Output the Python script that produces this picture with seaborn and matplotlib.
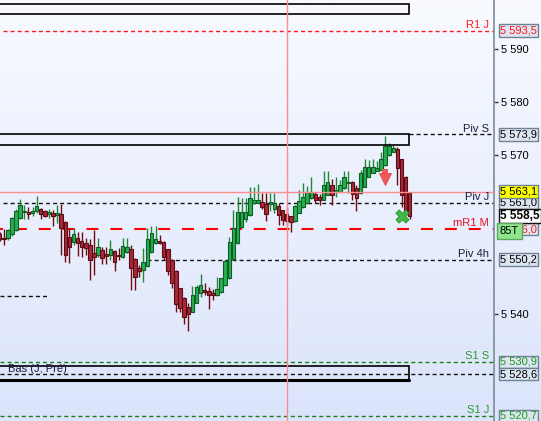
import numpy as np
import pandas as pd
import matplotlib
matplotlib.use('Agg')
import matplotlib.pyplot as plt
import seaborn as sns
from matplotlib.transforms import blended_transform_factory
from matplotlib.patches import Rectangle

# bougies (de la plus ancienne a la plus recente)
opens = [5555.0, 5554.4, 5554.4, 5555.0, 5555.8, 5558.1, 5559.2, 5559.3, 5559.0, 5559.5,
         5559.8, 5559.4, 5558.9, 5559.0, 5558.7, 5558.9, 5557.4, 5554.6, 5553.5, 5554.3,
         5553.8, 5553.3, 5553.0, 5551.4, 5551.1, 5552.1, 5551.3, 5551.1, 5551.9, 5551.1,
         5550.7, 5551.6, 5552.2, 5550.3, 5548.6, 5548.3, 5549.0, 5551.6, 5553.3, 5553.8,
         5553.6, 5552.2, 5550.2, 5548.1, 5544.8, 5542.9, 5541.2, 5540.4, 5542.0, 5543.9,
         5544.5, 5544.3, 5543.9, 5543.5, 5544.1, 5545.4, 5546.7, 5550.4, 5553.3, 5556.4,
         5557.9, 5558.7, 5560.9, 5561.0, 5561.2, 5560.8, 5560.8, 5559.8, 5560.4, 5559.6,
         5558.9, 5558.4, 5557.6, 5559.1, 5560.1, 5560.9, 5561.8, 5562.6, 5562.1, 5561.6,
         5562.5, 5564.3, 5563.1, 5563.1, 5563.7, 5564.7, 5565.0, 5563.7, 5562.8, 5564.0,
         5565.9, 5566.7, 5567.0, 5567.2, 5568.1, 5570.0, 5570.6, 5571.1, 5569.2, 5565.9,
         5562.9]
highs = [5555.5, 5556.0, 5556.0, 5558.3, 5559.8, 5561.7, 5560.6, 5560.2, 5560.2, 5562.3,
         5560.0, 5559.6, 5559.8, 5559.6, 5560.6, 5560.8, 5557.5, 5556.2, 5556.2, 5555.5,
         5555.5, 5554.3, 5554.1, 5555.8, 5554.4, 5552.7, 5552.7, 5554.0, 5552.0, 5552.4,
         5554.4, 5554.4, 5553.0, 5550.5, 5549.2, 5552.4, 5556.2, 5556.6, 5556.6, 5554.9,
         5553.7, 5552.3, 5550.3, 5548.2, 5544.9, 5543.2, 5542.0, 5545.2, 5545.4, 5547.5,
         5545.8, 5545.1, 5544.7, 5547.0, 5546.8, 5550.2, 5554.6, 5559.7, 5562.1, 5561.8,
         5561.8, 5564.0, 5564.0, 5564.5, 5562.9, 5562.9, 5562.9, 5562.9, 5561.0, 5559.7,
         5560.2, 5558.5, 5560.6, 5563.4, 5564.7, 5564.2, 5565.9, 5563.1, 5562.7, 5567.0,
         5566.9, 5565.4, 5565.9, 5565.3, 5567.0, 5566.9, 5565.1, 5564.3, 5567.2, 5569.2,
         5569.1, 5569.2, 5568.9, 5570.6, 5573.7, 5572.2, 5571.9, 5571.6, 5569.3, 5566.0,
         5563.0]
lows = [5553.8, 5553.0, 5554.0, 5554.7, 5555.6, 5557.9, 5557.9, 5557.9, 5558.4, 5559.0,
        5557.9, 5558.3, 5558.1, 5556.6, 5557.1, 5551.1, 5549.7, 5549.6, 5553.0, 5550.9,
        5550.8, 5551.1, 5546.4, 5547.3, 5550.8, 5549.5, 5549.5, 5550.2, 5548.1, 5550.2,
        5550.5, 5551.4, 5544.5, 5544.5, 5547.0, 5546.1, 5548.9, 5551.4, 5553.2, 5553.2,
        5550.2, 5547.3, 5544.9, 5540.4, 5540.4, 5538.1, 5536.8, 5540.4, 5542.0, 5543.2,
        5543.5, 5540.9, 5542.6, 5543.4, 5544.0, 5545.3, 5546.6, 5550.2, 5553.2, 5556.3,
        5557.4, 5558.5, 5560.8, 5560.9, 5559.9, 5557.6, 5559.5, 5559.0, 5556.8, 5556.8,
        5556.6, 5555.5, 5557.4, 5559.0, 5560.0, 5560.8, 5561.7, 5560.9, 5560.6, 5561.5,
        5562.4, 5560.6, 5562.1, 5563.0, 5563.6, 5562.8, 5561.5, 5559.5, 5562.7, 5563.9,
        5565.8, 5566.6, 5566.9, 5567.1, 5568.0, 5569.9, 5570.5, 5564.3, 5560.2, 5558.7,
        5558.0]
closes = [5554.1, 5554.1, 5555.8, 5558.1, 5559.5, 5560.5, 5559.5, 5558.9, 5559.5, 5560.4,
          5558.9, 5558.5, 5559.1, 5558.4, 5559.0, 5556.2, 5551.2, 5552.7, 5555.0, 5553.3,
          5552.7, 5552.4, 5550.1, 5550.8, 5552.6, 5550.6, 5551.0, 5552.2, 5549.7, 5550.9,
          5552.8, 5552.6, 5548.6, 5546.9, 5548.1, 5549.7, 5554.1, 5555.2, 5554.1, 5553.3,
          5550.7, 5548.0, 5545.8, 5541.8, 5541.0, 5539.3, 5540.0, 5543.5, 5545.0, 5545.4,
          5544.1, 5543.5, 5543.5, 5544.6, 5546.7, 5550.0, 5553.6, 5556.2, 5559.3, 5559.3,
          5559.3, 5561.8, 5561.5, 5561.5, 5560.1, 5558.8, 5561.0, 5560.9, 5558.7, 5557.7,
          5557.6, 5557.4, 5560.4, 5561.4, 5562.1, 5563.1, 5563.1, 5561.6, 5561.6, 5564.3,
          5565.0, 5562.5, 5563.4, 5564.3, 5565.8, 5565.0, 5562.6, 5561.8, 5566.7, 5567.8,
          5567.8, 5567.7, 5567.5, 5569.2, 5571.7, 5571.7, 5571.3, 5567.5, 5562.5, 5559.4,
          5558.5]

# niveaux (nom affiche a gauche de l'echelle)
level_names = ['R1 J', 'Piv S', 'Piv J', 'mR1 M', 'Piv 4h', 'S1 S', 'S1 J']
level_values = [5593.5, 5573.9, 5561.0, 5556.0, 5550.2, 5530.9, 5520.7]
extra_levels = [5528.6, 5543.4]

# etiquettes de prix sur l'echelle (ordre de dessin)
tag_texts = ['5 593,5', '5 573,9', '5 561,0', '5 563,1', '5 550,2',
             '5 530,9', '5 528,6', '5 520,7', '5 556,0', '5 558,5']
tag_values = [5593.5, 5573.9, 5561.0, 5563.1, 5550.2,
              5530.9, 5528.6, 5520.7, 5556.0, 5558.5]

yticks = [5540, 5570, 5580, 5590]
ytick_labels = ['5 540', '5 570', '5 580', '5 590']

# zones (bas, haut)
zone_low = [5596.7, 5572.0, 5527.4]
zone_high = [5598.6, 5573.9, 5530.1]
zone_text = 'Bas (J, Pré)'

cursor_price = 5563.1
cursor_bar = 70
arrow_bar = 94
arrow_top, arrow_tip = 5567.4, 5564.9
cross_bar = 98
cross_price = 5558.4

sns.set_theme(style='white')
plt.rcParams['font.family'] = ['Liberation Sans', 'DejaVu Sans']
plt.rcParams['lines.scale_dashes'] = False

W, H = 541, 421
fig = plt.figure(figsize=(W / 100, H / 100), dpi=100)

# fond degrade
bg = fig.add_axes([0, 0, 1, 1], zorder=0)
grad = np.linspace(0, 1, 256)[:, None, None]
top = np.array([248, 250, 255]) / 255
bot = np.array([219, 228, 251]) / 255
bg.imshow(top + (bot - top) * grad, aspect='auto', extent=[0, 1, 0, 1])
bg.set_axis_off()

ax = fig.add_axes([0, 0, 494 / W, 1], zorder=1)
ax.patch.set_alpha(0)
x0, x1 = 0.073, 120.56
ax.set_xlim(x0, x1)
ax.set_ylim(5519.73, 5599.32)

df = pd.DataFrame({'open': opens, 'high': highs, 'low': lows, 'close': closes})
df['bar'] = np.arange(len(df))
up = df['close'] >= df['open']
body_lo = np.minimum(df['open'], df['close'])
body_h = np.maximum((df['close'] - df['open']).abs(), 0.25)

ax.vlines(df['bar'][up], df['low'][up], df['high'][up], color='#1f8a36', lw=1, zorder=3)
ax.vlines(df['bar'][~up], df['low'][~up], df['high'][~up], color='#6e0b12', lw=1, zorder=3)
ax.bar(df['bar'][up], body_h[up], bottom=body_lo[up], width=0.84,
       color='#25b14e', edgecolor='#0f5c26', lw=0.8, zorder=4)
ax.bar(df['bar'][~up], body_h[~up], bottom=body_lo[~up], width=0.84,
       color='#a8283a', edgecolor='#5a0c14', lw=0.8, zorder=4)

short = (0, (2.9, 2.2))
# lignes de niveaux
ax.plot([0.8, x1], [level_values[0]] * 2, color='#ff1a1a', ls=short, lw=1, zorder=2)
ax.plot([99.8, x1], [level_values[1]] * 2, color='#111111', ls=short, lw=1, zorder=2)
ax.plot([0.8, x1], [level_values[2]] * 2, color='#111111', ls=short, lw=1, zorder=2)
ax.plot([x0, x1], [level_values[3]] * 2, color='#ff0000', ls=(6.5, (8.6, 8.6)), lw=1.5, zorder=2)
ax.plot([35.9, x1], [level_values[4]] * 2, color='#111111', ls=short, lw=1, zorder=2)
ax.plot([x0, x1], [level_values[5]] * 2, color='#1a7f1a', ls=short, lw=1, zorder=2)
ax.plot([x0, x1], [level_values[6]] * 2, color='#1a7f1a', ls=short, lw=1, zorder=2)
ax.plot([x0, x1], [extra_levels[0]] * 2, color='#111111', ls=short, lw=1, zorder=2)
ax.plot([x0, 11.8], [extra_levels[1]] * 2, color='#111111', ls=short, lw=1, zorder=2)

# zones
for lo, hi in zip(zone_low, zone_high):
    ax.add_patch(Rectangle((-1, lo), 100.8, hi - lo, fc='none', ec='black', lw=1.2, zorder=5))
ax.plot([-1, 99.8], [zone_low[2]] * 2, color='black', lw=2.2, zorder=5)
ax.text(2.0, 5529.5, zone_text, fontsize=8, color='#1c1c3a', va='center', ha='left', zorder=6)

# curseur
ax.axhline(cursor_price, color='#ff8c8c', lw=1, zorder=6)
ax.axvline(cursor_bar, color='#ff8c8c', lw=1, zorder=6)

# signaux : fleche de vente et croix verte
head_y = arrow_tip + 0.55
ax.plot([arrow_bar, arrow_bar], [arrow_top, head_y], color='#f25a5a', lw=4.3,
        solid_capstyle='butt', zorder=7)
ax.plot([arrow_bar], [head_y], marker='v', ms=8, color='#f25a5a',
        markeredgecolor='#e04848', markeredgewidth=0.6, zorder=7)
sns.scatterplot(x=[cross_bar], y=[cross_price], marker='X', s=90, color='#3dbb45',
                edgecolor='#2a8f32', linewidth=0.6, ax=ax, zorder=7, legend=False)

# axe des prix
for s in ['top', 'left', 'bottom']:
    ax.spines[s].set_visible(False)
ax.spines['right'].set_color('#7b8b9b')
ax.spines['right'].set_linewidth(1.2)
ax.yaxis.tick_right()
ax.set_yticks(yticks, ytick_labels)
ax.set_xticks([])
ax.tick_params(axis='y', length=3, width=1, color='#333333', labelsize=8,
               labelcolor='black', pad=2)
ax.set_xlabel('')
ax.set_ylabel('')

tr = blended_transform_factory(ax.transAxes, ax.transData)

name_colors = ['#ff2020', '#1c1c3a', '#1c1c3a', '#e8102a', '#1c1c3a', '#2e9a2e', '#2e9a2e']
for name, val, c in zip(level_names, level_values, name_colors):
    ax.text(0.99, val + 0.15, name, transform=tr, ha='right', va='bottom',
            fontsize=8, color=c, zorder=8)

tag_style = {
    '5 593,5': ('#ff1a1a', '#dde5f1'),
    '5 563,1': ('black', '#ffff00'),
    '5 530,9': ('#1f9a1f', '#dde5f1'),
    '5 520,7': ('#1f9a1f', '#dde5f1'),
    '5 556,0': ('#ff1a1a', '#dde5f1'),
}
for text, val in zip(tag_texts, tag_values):
    tc, fc = tag_style.get(text, ('black', '#dde5f1'))
    bold = text == '5 558,5'
    ax.text(1.012, val, text, transform=tr, ha='left', va='center',
            fontsize=8.5 if bold else 8, fontweight='bold' if bold else 'normal',
            color=tc, clip_on=False, zorder=10,
            bbox=dict(boxstyle='square,pad=0.12', fc='white' if bold else fc,
                      ec='#111111' if bold else '#6f8396', lw=1))
ax.text(1.012, 5555.6, '85T', transform=tr, ha='left', va='center', fontsize=8,
        color='black', clip_on=False, zorder=11,
        bbox=dict(boxstyle='square,pad=0.25', fc='#8fe68f', ec='#5fa85f', lw=1))

fig.savefig('out.png', dpi=100)
